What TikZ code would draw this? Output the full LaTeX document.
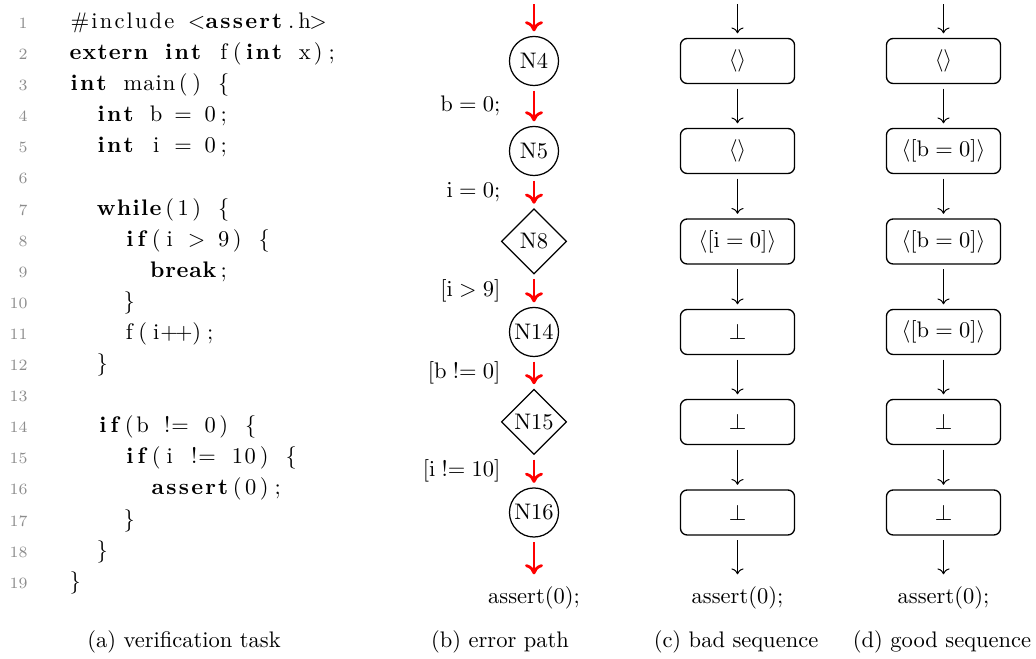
\documentclass[tikz,border=0pt]{standalone}
\usetikzlibrary{shapes.geometric,arrows.meta}
\newlength\cw \setlength\cw{6pt}
\def\cwloop#1{\ifx#1\relax\else\hss#1\expandafter\cwloop\fi}
\newcommand\cwU[2]{\hbox to #1\cw{\cwloop#2\relax\hss}}
\newcommand\cwK[2]{\hbox to #1\cw{\bfseries\cwloop#2\relax\hss}}
\newcommand\cwI[1]{\hbox to #1\cw{}}
\newcommand\cwS{\hbox to \cw{}}
\tikzset{
  codeline/.style={anchor=base west,inner sep=0pt},
  lnum/.style={anchor=base east,inner sep=0pt,font=\scriptsize,text=black!45},
  cnode/.style={draw,line width=0.55pt,circle,minimum size=21.8pt,inner sep=1pt},
  dnode/.style={draw,line width=0.55pt,diamond,minimum width=29pt,minimum height=29pt,inner sep=0pt},
  sbox/.style={draw,line width=0.6pt,rounded corners=3pt,minimum width=50.7pt,minimum height=20pt,inner sep=1pt},
  redarr/.style={draw=red,line width=1.25pt,-{To[length=4.5pt,width=8pt]},shorten <=2pt,shorten >=2pt},
  blkarr/.style={draw,line width=0.45pt,->,shorten <=2pt,shorten >=2pt},
  elab/.style={midway,anchor=east,xshift=-11pt},
  capt/.style={anchor=base,inner sep=0pt}
}
\begin{document}
\begin{tikzpicture}[x=0.4444pt,y=-0.4444pt]
\useasboundingbox (0,0) rectangle (1036,659);
% line numbers
\foreach \i in {1,...,19}{
  \node[lnum] (ln\i) at (28,{28.5+(\i-1)*31.1}) {\i};
}
% code
\node[codeline] (c1) at (68,28.5) {\cwU{8}{\#include}\cwS\cwU{1}{\textless}\cwK{6}{assert}\cwU{1}{.}\cwU{1}{h}\cwU{1}{\textgreater}};
\node[codeline] (c2) at (68,59.6) {\cwK{6}{extern}\cwS\cwK{3}{int}\cwS\cwU{1}{f}\cwU{1}{(}\cwK{3}{int}\cwS\cwU{1}{x}\cwU{1}{)}\cwU{1}{;}};
\node[codeline] (c3) at (68,90.7) {\cwK{3}{int}\cwS\cwU{4}{main}\cwU{1}{(}\cwU{1}{)}\cwS\cwU{1}{\{}};
\node[codeline] (c4) at (68,121.8) {\cwI{2}\cwK{3}{int}\cwS\cwU{1}{b}\cwS\cwU{1}{=}\cwS\cwU{1}{0}\cwU{1}{;}};
\node[codeline] (c5) at (68,152.9) {\cwI{2}\cwK{3}{int}\cwS\cwU{1}{i}\cwS\cwU{1}{=}\cwS\cwU{1}{0}\cwU{1}{;}};
\node[codeline] (c7) at (68,215.1) {\cwI{2}\cwK{5}{while}\cwU{1}{(}\cwU{1}{1}\cwU{1}{)}\cwS\cwU{1}{\{}};
\node[codeline] (c8) at (68,246.2) {\cwI{4}\cwK{2}{if}\cwU{1}{(}\cwU{1}{i}\cwS\cwU{1}{\textgreater}\cwS\cwU{1}{9}\cwU{1}{)}\cwS\cwU{1}{\{}};
\node[codeline] (c9) at (68,277.3) {\cwI{6}\cwK{5}{break}\cwU{1}{;}};
\node[codeline] (c10) at (68,308.4) {\cwI{4}\cwU{1}{\}}};
\node[codeline] (c11) at (68,339.5) {\cwI{4}\cwU{1}{f}\cwU{1}{(}\cwU{1}{i}\cwU{2}{++}\cwU{1}{)}\cwU{1}{;}};
\node[codeline] (c12) at (68,370.6) {\cwI{2}\cwU{1}{\}}};
\node[codeline] (c14) at (68,432.8) {\cwI{2}\cwK{2}{if}\cwU{1}{(}\cwU{1}{b}\cwS\cwU{2}{!=}\cwS\cwU{1}{0}\cwU{1}{)}\cwS\cwU{1}{\{}};
\node[codeline] (c15) at (68,463.9) {\cwI{4}\cwK{2}{if}\cwU{1}{(}\cwU{1}{i}\cwS\cwU{2}{!=}\cwS\cwU{2}{10}\cwU{1}{)}\cwS\cwU{1}{\{}};
\node[codeline] (c16) at (68,495.0) {\cwI{6}\cwK{6}{assert}\cwU{1}{(}\cwU{1}{0}\cwU{1}{)}\cwU{1}{;}};
\node[codeline] (c17) at (68,526.1) {\cwI{4}\cwU{1}{\}}};
\node[codeline] (c18) at (68,557.2) {\cwI{2}\cwU{1}{\}}};
\node[codeline] (c19) at (68,588.3) {\cwU{1}{\}}};

% error path
\coordinate (e0) at (534,0);
\node[cnode] (n4) at (534,61) {N4};
\node[cnode] (n5) at (534,151) {N5};
\node[dnode] (n8) at (534,241.5) {N8};
\node[cnode] (n14) at (534,332) {N14};
\node[dnode] (n15) at (534,422) {N15};
\node[cnode] (n16) at (534,512.5) {N16};
\node (ea) at (534,598) {assert(0);};
\draw[redarr] (e0) -- (n4);
\draw[redarr] (n4) -- node[elab] (l1) {$\mathrm{b = 0;}$} (n5);
\draw[redarr] (n5) -- node[elab] (l2) {$\mathrm{i = 0;}$} (n8);
\draw[redarr] (n8) -- node[elab] (l3) {$\mathrm{[i > 9]}$} (n14);
\draw[redarr] (n14) -- node[elab] (l4) {$\mathrm{[b \mathrel{!{=}} 0]}$} (n15);
\draw[redarr] (n15) -- node[elab] (l5) {$\mathrm{[i \mathrel{!{=}} 10]}$} (n16);
\draw[redarr] (n16) -- (ea);

% bad sequence
\coordinate (b0) at (737.5,0);
\node[sbox] (b1) at (737.5,61) {$\langle\rangle$};
\node[sbox] (b2) at (737.5,151) {$\langle\rangle$};
\node[sbox] (b3) at (737.5,241.5) {$\langle[\mathrm{i = 0}]\rangle$};
\node[sbox] (b4) at (737.5,332) {$\bot$};
\node[sbox] (b5) at (737.5,422) {$\bot$};
\node[sbox] (b6) at (737.5,512.5) {$\bot$};
\node (ba) at (737.5,598) {assert(0);};
\draw[blkarr] (b0) -- (b1);
\draw[blkarr] (b1) -- (b2);
\draw[blkarr] (b2) -- (b3);
\draw[blkarr] (b3) -- (b4);
\draw[blkarr] (b4) -- (b5);
\draw[blkarr] (b5) -- (b6);
\draw[blkarr] (b6) -- (ba);

% good sequence
\coordinate (g0) at (943.5,0);
\node[sbox] (g1) at (943.5,61) {$\langle\rangle$};
\node[sbox] (g2) at (943.5,151) {$\langle[\mathrm{b = 0}]\rangle$};
\node[sbox] (g3) at (943.5,241.5) {$\langle[\mathrm{b = 0}]\rangle$};
\node[sbox] (g4) at (943.5,332) {$\langle[\mathrm{b = 0}]\rangle$};
\node[sbox] (g5) at (943.5,422) {$\bot$};
\node[sbox] (g6) at (943.5,512.5) {$\bot$};
\node (ga) at (943.5,598) {assert(0);};
\draw[blkarr] (g0) -- (g1);
\draw[blkarr] (g1) -- (g2);
\draw[blkarr] (g2) -- (g3);
\draw[blkarr] (g3) -- (g4);
\draw[blkarr] (g4) -- (g5);
\draw[blkarr] (g5) -- (g6);
\draw[blkarr] (g6) -- (ga);

% captions
\node[capt] (ca) at (184,648) {(a) verification task};
\node[capt] (cb) at (500,648) {(b) error path};
\node[capt] (cc) at (736,648) {(c) bad sequence};
\node[capt] (cd) at (942,648) {(d) good sequence};
\end{tikzpicture}
\end{document}
